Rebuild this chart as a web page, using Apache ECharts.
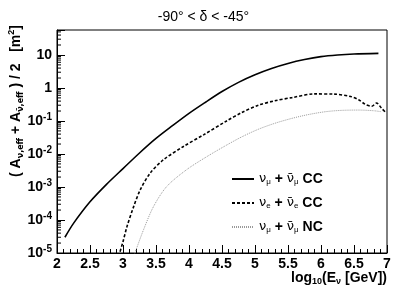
<!DOCTYPE html>
<html><head><meta charset="utf-8">
<script src="https://cdn.jsdelivr.net/npm/echarts@6/dist/echarts.min.js"></script>
<style>html,body{margin:0;padding:0;background:#fff}#c{width:407px;height:294px}</style>
</head><body><div id="c"></div>
<script>
// log10(E) [GeV] and effective area [m^2]
const numuCC_x = [2.12, 2.25, 2.5, 2.75, 3.0, 3.25, 3.5, 3.75, 4.0, 4.25, 4.5, 4.75, 5.0, 5.25, 5.5, 5.75, 6.0, 6.25, 6.5, 6.87];
const numuCC_y = [3.0e-5, 7.9e-5, 3.55e-4, 1.2e-3, 3.6e-3, 1.07e-2, 2.95e-2, 7.2e-2, 0.17, 0.37, 0.78, 1.48, 2.51, 3.89, 5.5, 7.24, 8.9, 10.0, 10.7, 11.2];
const nueCC_x = [2.92, 2.95, 3.0, 3.06, 3.16, 3.26, 3.41, 3.61, 3.91, 4.22, 4.57, 4.8, 5.05, 5.3, 5.56, 5.9, 6.2, 6.45, 6.57, 6.67, 6.77, 6.84, 6.92, 6.97];
const nueCC_y = [5.6e-6, 1.0e-5, 2.2e-5, 6.3e-5, 2.5e-4, 8.1e-4, 2.6e-3, 6.6e-3, 1.66e-2, 3.8e-2, 0.1, 0.18, 0.3, 0.41, 0.51, 0.66, 0.65, 0.55, 0.44, 0.32, 0.28, 0.35, 0.24, 0.19];
const numuNC_x = [3.16, 3.18, 3.31, 3.46, 3.66, 3.96, 4.27, 4.57, 4.8, 5.05, 5.3, 5.56, 5.8, 6.06, 6.3, 6.57, 6.8, 6.92];
const numuNC_y = [7.9e-6, 1.0e-5, 5.0e-5, 2.5e-4, 1.02e-3, 3.3e-3, 8.3e-3, 1.86e-2, 3.3e-2, 5.6e-2, 8.5e-2, 0.12, 0.155, 0.19, 0.209, 0.214, 0.204, 0.19];
const xTickLabels = ['2', '2.5', '3', '3.5', '4', '4.5', '5', '5.5', '6', '6.5', '7'];
const yDecades = [-5, -4, -3, -2, -1, 0, 1];

const X0 = 2, X1 = 7, Y0 = 1e-5, Y1 = 57;
function pairs(xs, ys) { return xs.map((x, i) => [x, ys[i]]); }
const minorVals = [];
for (const n of yDecades) for (let k = 2; k <= 9; k++) { const v = k * Math.pow(10, n); if (v < Y1) minorVals.push([X0, v]); }

const FONT = 'Liberation Sans, Arial, Helvetica, sans-serif';
const GF = 'DejaVu Sans, sans-serif';
const chart = echarts.init(document.getElementById('c'), null, { renderer: 'canvas' });
chart.setOption({
  animation: false,
  backgroundColor: '#fff',
  title: { text: '-90° < δ < -45°', left: 'center', top: 5, textStyle: { fontFamily: FONT, fontSize: 14, fontWeight: 'normal', color: '#000' } },
  grid: { left: 57, right: 20, top: 30, bottom: 41, show: true, borderColor: '#000', borderWidth: 1, backgroundColor: 'transparent' },
  legend: {
    orient: 'vertical', left: 226, top: 167, itemWidth: 22, itemHeight: 12, itemGap: 10,
    data: ['numuCC', 'nueCC', 'numuNC'],
    itemStyle: { color: 'rgba(0,0,0,0)', borderWidth: 0, opacity: 0 },
    formatter: function (name) {
      const m = { numuCC: '{n|ν}{s|μ}{b| + }{n|ν̄}{s|μ}{b| CC}', nueCC: '{n|ν}{s|e}{b| + }{n|ν̄}{s|e}{b| CC}', numuNC: '{n|ν}{s|μ}{b| + }{n|ν̄}{s|μ}{b| NC}' };
      return m[name];
    },
    textStyle: {
      color: '#000', fontFamily: FONT,
      rich: {
        n: { fontSize: 13, fontFamily: GF, color: '#000' },
        s: { fontSize: 8, fontFamily: FONT, color: '#000', padding: [6, 0, 0, 0], verticalAlign: 'bottom' },
        b: { fontSize: 14, fontWeight: 'bold', fontFamily: FONT, color: '#000' }
      }
    }
  },
  xAxis: {
    type: 'value', min: X0, max: X1, interval: 0.5,
    axisLine: { lineStyle: { color: '#000' } },
    axisTick: { inside: true, length: 8, lineStyle: { color: '#000' } },
    minorTick: { show: true, splitNumber: 5, length: 4, lineStyle: { color: '#000' } },
    splitLine: { show: false },
    axisLabel: { margin: 4, color: '#000', fontSize: 14, fontWeight: 'bold', fontFamily: FONT, formatter: v => { const i = Math.round((v - X0) / 0.5); return xTickLabels[i] || ''; } }
  },
  yAxis: {
    type: 'log', min: Y0, max: Y1, interval: 1, logBase: 10,
    axisLine: { lineStyle: { color: '#000' } },
    axisTick: { inside: true, length: 8, lineStyle: { color: '#000' } },
    splitLine: { show: false },
    axisLabel: {
      margin: 5, color: '#000', fontFamily: FONT,
      formatter: function (v) {
        const l = Math.log10(v); const n = Math.round(l);
        if (Math.abs(l - n) > 1e-6 || yDecades.indexOf(n) < 0) return '';
        if (n === 1) return '{b|10}';
        if (n === 0) return '{b|1}';
        return '{b|10}{sup|' + n + '}';
      },
      rich: {
        b: { fontSize: 14, fontWeight: 'bold', fontFamily: FONT, color: '#000' },
        sup: { fontSize: 10, fontWeight: 'bold', fontFamily: FONT, color: '#000', padding: [0, 0, 8, 0], verticalAlign: 'bottom' }
      }
    }
  },
  series: [
    { name: 'numuCC', type: 'line', data: pairs(numuCC_x, numuCC_y), symbol: 'none', showSymbol: false, smooth: 0.3, lineStyle: { color: '#000', width: 1.6, type: 'solid' }, itemStyle: { color: '#000' } },
    { name: 'nueCC', type: 'line', data: pairs(nueCC_x, nueCC_y), symbol: 'none', showSymbol: false, smooth: 0.3, lineStyle: { color: '#000', width: 1.6, type: [3, 2] }, itemStyle: { color: '#000' } },
    { name: 'numuNC', type: 'line', data: pairs(numuNC_x, numuNC_y), symbol: 'none', showSymbol: false, smooth: 0.3, lineStyle: { color: '#999', width: 1, type: [1, 1] }, itemStyle: { color: '#999' } },
    { name: 'minor', type: 'custom', data: minorVals, silent: true, clip: false,
      renderItem: function (params, api) {
        const p = api.coord([api.value(0), api.value(1)]);
        return { type: 'line', shape: { x1: p[0], y1: p[1], x2: p[0] + 4, y2: p[1] }, style: { stroke: '#000', lineWidth: 1 } };
      } }
  ],
  graphic: [
    { type: 'text', x: 16, y: 101, rotation: Math.PI / 2,
      style: {
        text: '{b|( A}{s|ν,eff}{b| + A}{s|ν̄,eff}{b| ) / 2   [m}{sup|2}{b|]}',
        align: 'center', verticalAlign: 'middle', fontFamily: FONT,
        rich: {
          b: { fontSize: 14, fontWeight: 'bold', fontFamily: FONT, fill: '#000' },
          s: { fontSize: 8, fontWeight: 'bold', fontFamily: GF, fill: '#000', padding: [6, 0, 0, 0], verticalAlign: 'bottom' },
          sup: { fontSize: 9, fontWeight: 'bold', fontFamily: FONT, fill: '#000', padding: [0, 0, 8, 0], verticalAlign: 'bottom' }
        }
      } },
    { type: 'text', right: 20, top: 271,
      style: {
        text: '{b|log}{s|10}{b|(E}{s|ν}{b| [GeV])}', fontFamily: FONT,
        rich: {
          b: { fontSize: 14, fontWeight: 'bold', fontFamily: FONT, fill: '#000' },
          s: { fontSize: 9, fontWeight: 'bold', fontFamily: FONT, fill: '#000', padding: [7, 0, 0, 0], verticalAlign: 'bottom' }
        }
      } }
  ]
});
</script></body></html>
